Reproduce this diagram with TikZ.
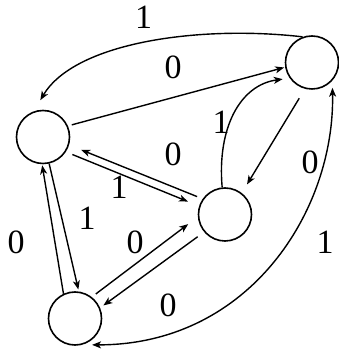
\documentclass[tikz,border=0pt]{standalone}
\usepackage{fontspec}
\setmainfont{Liberation Serif}
\usetikzlibrary{arrows.meta}
\begin{document}
\begin{tikzpicture}[x=1pt,y=1pt,
  state/.style={circle, draw, line width=1.6pt, minimum size=53pt, inner sep=0pt},
  arr/.style={line width=1.4pt, -{Stealth[length=9pt,width=7pt,inset=2.5pt]}},
  darr/.style={line width=1.4pt, {Stealth[length=9pt,width=7pt,inset=2.5pt]}-{Stealth[length=9pt,width=7pt,inset=2.5pt]}},
  lbl/.style={inner sep=0pt, font=\fontsize{34}{34}\selectfont}]
\useasboundingbox (0,0) rectangle (339,350);
\node[state] (A) at (43,213) {};
\node[state] (B) at (312,287.5) {};
\node[state] (C) at (225,135.5) {};
\node[state] (D) at (75,31.5) {};
% straight edges
\draw[arr, shorten <=4pt, shorten >=1pt] (A.24) -- (B.190);
\draw[arr, shorten <=6pt, shorten >=13pt] (C.145) -- (A.-17);
\draw[arr, shorten <=7pt, shorten >=12pt] (A.-33) -- (C.162);
\draw[arr, shorten <=11pt, shorten >=10pt] (B.255) -- (C.52);
\draw[arr, shorten <=8pt, shorten >=4pt] (C.220) -- (D.23);
\draw[arr, shorten <=5pt, shorten >=12pt] (D.52) -- (C.185);
\draw[arr, shorten >=2pt] (A.283) -- (D.82);
\draw[arr, shorten >=1pt] (D.115) -- (A.268);
% curved edges
\draw[arr, shorten >=13pt] (B.110) .. controls (200,325) and (75,308) .. (A.110);
\draw[arr, shorten >=7pt] (C.96) .. controls (217,222) and (240,265) .. (B.215);
\draw[darr, shorten <=10pt, shorten >=7pt] (D.285) .. controls (250,5) and (335,140) .. (B.318);
% labels
\node[lbl] (l1) at (143.5,333) {1};
\node[lbl] (l2) at (173,283) {0};
\node[lbl] (l3) at (173,196) {0};
\node[lbl] (l4) at (221,228) {1};
\node[lbl] (l5) at (310,188) {0};
\node[lbl] (l6) at (119,163) {1};
\node[lbl] (l7) at (87,132) {1};
\node[lbl] (l8) at (135,108) {0};
\node[lbl] (l9) at (168,45) {0};
\node[lbl] (l10) at (325,108) {1};
\node[lbl] (l11) at (16,108) {0};
\end{tikzpicture}
\end{document}
